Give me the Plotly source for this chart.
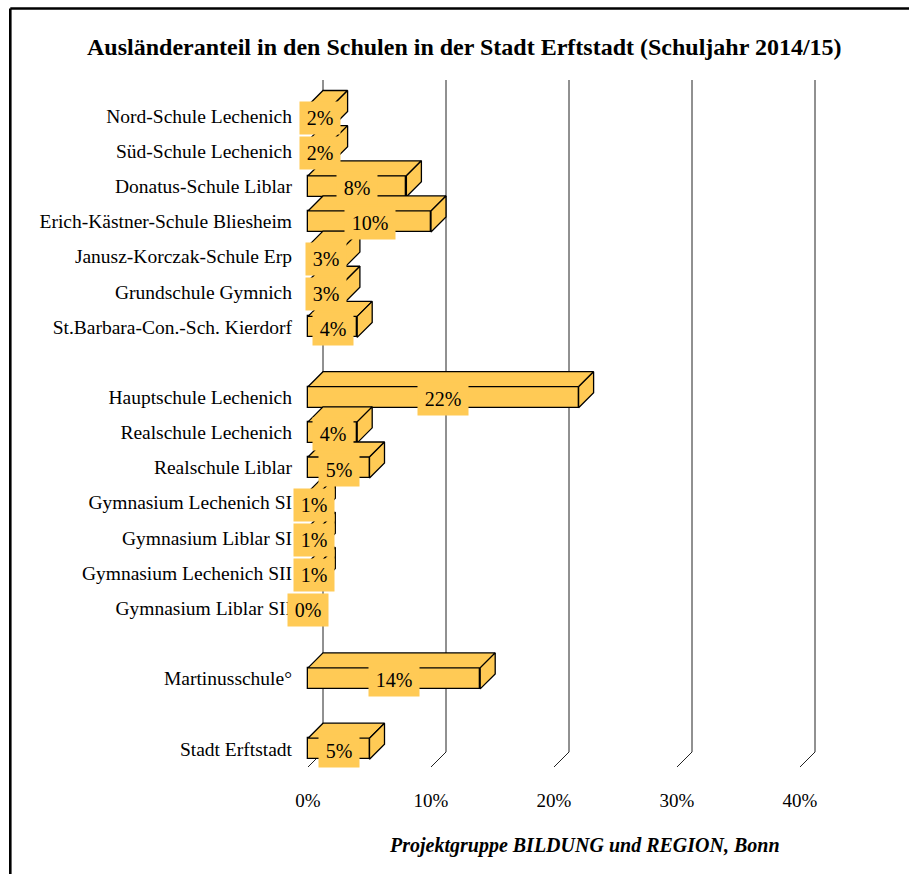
import plotly.graph_objects as go

# ---- data -------------------------------------------------------------
schools = [
    "Nord-Schule Lechenich", "Süd-Schule Lechenich", "Donatus-Schule Liblar",
    "Erich-Kästner-Schule Bliesheim", "Janusz-Korczak-Schule Erp",
    "Grundschule Gymnich", "St.Barbara-Con.-Sch. Kierdorf",
    "Hauptschule Lechenich", "Realschule Lechenich", "Realschule Liblar",
    "Gymnasium Lechenich SI", "Gymnasium Liblar SI",
    "Gymnasium Lechenich SII", "Gymnasium Liblar SII",
    "Martinusschule°", "Stadt Erftstadt",
]
share = [2, 2, 8, 10, 3, 3, 4, 22, 4, 5, 1, 1, 1, 0, 14, 5]
group_sizes = [7, 7, 1, 1]          # primary, secondary, special school, city total
tick_values = [0, 10, 20, 30, 40]
tick_labels = ["0%", "10%", "20%", "30%", "40%"]

title_text = "Ausländeranteil in den Schulen in der Stadt Erftstadt (Schuljahr 2014/15)"
source_text = "Projektgruppe BILDUNG und REGION, Bonn"

# ---- geometry ---------------------------------------------------------
W, H = 909, 874
L, R, T, B = 293, 39, 60, 92
plot_w, plot_h = W - L - R, H - T - B

PX_PER_PCT = 12.3      # horizontal scale
PX_PER_SLOT = 35.15    # vertical distance between rows
ZERO_PX = 308          # pixel column of 0 %
FIRST_ROW_PX = 116     # pixel row of the first category

x_range = [(L - ZERO_PX) / PX_PER_PCT, (W - R - ZERO_PX) / PX_PER_PCT]
y_range = [(H - B - FIRST_ROW_PX) / PX_PER_SLOT, (T - FIRST_ROW_PX) / PX_PER_SLOT]

# 3-D depth offset (to the right and upwards)
DX = 15 / PX_PER_PCT
DY = 15 / PX_PER_SLOT
BAR_H = 21 / PX_PER_SLOT

# row positions: one empty row between groups
slots = []
pos = 0
for n in group_sizes:
    slots.extend(range(pos, pos + n))
    pos += n + 1

wall_top = (80 - FIRST_ROW_PX) / PX_PER_SLOT
floor_front = (767 - FIRST_ROW_PX) / PX_PER_SLOT
floor_back = floor_front - DY

FILL = "#FFCA55"
EDGE = "black"
SERIF = "Liberation Serif, Times New Roman, serif"


def px_x(px):
    return (px - L) / plot_w


def px_y(py):
    return (H - B - py) / plot_h


fig = go.Figure()

# front faces
fig.add_trace(go.Bar(
    x=share, y=slots, orientation="h", base=0, width=BAR_H,
    marker=dict(color=FILL, line=dict(color=EDGE, width=1.3)),
    hoverinfo="skip", showlegend=False,
))

# top and side faces
for v, s in zip(share, slots):
    if v <= 0:
        continue
    top, bot = s - BAR_H / 2, s + BAR_H / 2
    fig.add_trace(go.Scatter(
        x=[0, v, v + DX, DX, 0], y=[top, top, top - DY, top - DY, top],
        mode="lines", fill="toself", fillcolor=FILL,
        line=dict(color=EDGE, width=1.3), hoverinfo="skip", showlegend=False,
    ))
    fig.add_trace(go.Scatter(
        x=[v, v + DX, v + DX, v, v], y=[top, top - DY, bot - DY, bot, top],
        mode="lines", fill="toself", fillcolor=FILL,
        line=dict(color=EDGE, width=1.3), hoverinfo="skip", showlegend=False,
    ))

# value labels on yellow boxes
for v, s in zip(share, slots):
    fig.add_annotation(
        x=v / 2, y=s + 2 / PX_PER_SLOT, xref="x", yref="y",
        text=f"\u200a{v}%\u200a", showarrow=False,
        bgcolor=FILL, borderpad=5,
        font=dict(family=SERIF, size=20, color="black"),
    )

shapes = []
# back wall grid lines and floor ticks
for g in tick_values:
    shapes.append(dict(type="line", xref="x", yref="y", layer="below",
                       x0=g + DX, x1=g + DX, y0=wall_top, y1=floor_back,
                       line=dict(color="#222", width=1)))
    shapes.append(dict(type="line", xref="x", yref="y", layer="below",
                       x0=g, x1=g + DX, y0=floor_front, y1=floor_back,
                       line=dict(color="#222", width=1)))

# outer frame (top and left edges)
shapes.append(dict(type="line", xref="paper", yref="paper",
                   x0=px_x(10.3), x1=px_x(912), y0=px_y(8.5), y1=px_y(8.5),
                   line=dict(color="black", width=2.4)))
shapes.append(dict(type="line", xref="paper", yref="paper",
                   x0=px_x(10.3), x1=px_x(10.3), y0=px_y(8.5), y1=px_y(880),
                   line=dict(color="black", width=2.6)))

fig.update_layout(
    width=W, height=H,
    margin=dict(l=L, r=R, t=T, b=B),
    paper_bgcolor="white", plot_bgcolor="white",
    shapes=shapes,
    bargap=0,
    xaxis=dict(range=x_range, tickvals=tick_values, ticktext=tick_labels,
               showgrid=False, zeroline=False, showline=False, ticks="",
               tickfont=dict(family=SERIF, size=19, color="black"),
               ticklabelstandoff=5, fixedrange=True),
    yaxis=dict(range=y_range, tickvals=slots, ticktext=schools,
               showgrid=False, zeroline=False, showline=False, ticks="",
               tickfont=dict(family=SERIF, size=19.5, color="black"),
               fixedrange=True),
    annotations=list(fig.layout.annotations) + [
        dict(text=f"<b>{title_text}</b>", xref="paper", yref="paper",
             x=px_x(464.5), y=px_y(47), xanchor="center", yanchor="middle",
             showarrow=False, font=dict(family=SERIF, size=24, color="black")),
        dict(text=f"<b><i>{source_text}</i></b>", xref="paper", yref="paper",
             x=px_x(584), y=px_y(845), xanchor="center", yanchor="middle",
             showarrow=False, font=dict(family=SERIF, size=20, color="black")),
    ],
)

fig.write_html("out.html")
